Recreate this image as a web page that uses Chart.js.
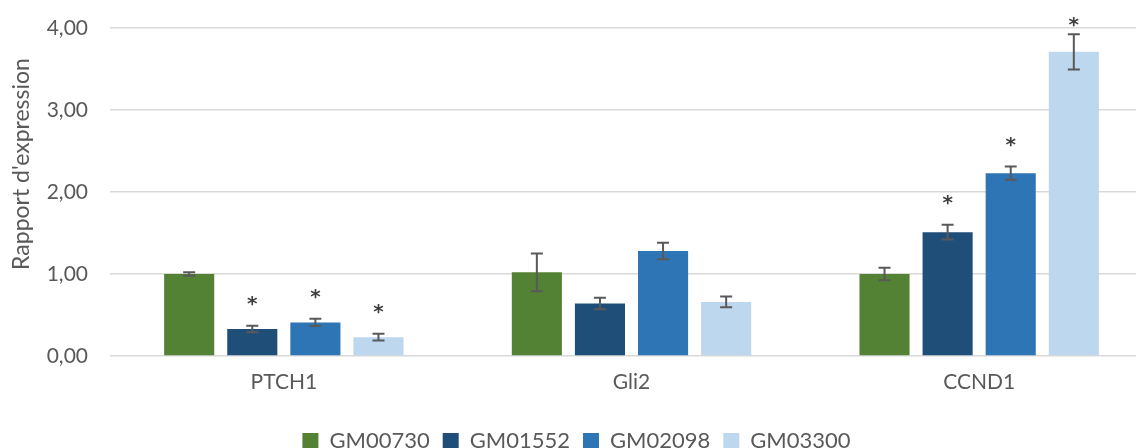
<!DOCTYPE html>
<html><head><meta charset="utf-8">
<script src="https://cdn.jsdelivr.net/npm/chart.js@4.4.1/dist/chart.umd.min.js"></script>
<style>
html,body{margin:0;padding:0;overflow:hidden;background:#fff;width:1136px;height:448px}
#wrap{position:absolute;left:0;top:0;width:1164px;height:462px}
</style></head><body>
<div id="wrap"><canvas id="c"></canvas></div>
<script>
const categories = ['PTCH1', 'Gli2', 'CCND1'];
const seriesNames = ['GM00730', 'GM01552', 'GM02098', 'GM03300'];
const gm00730 = [1.00, 1.02, 1.00];
const gm01552 = [0.33, 0.64, 1.51];
const gm02098 = [0.41, 1.28, 2.23];
const gm03300 = [0.23, 0.66, 3.71];
const errGm00730 = [0.02, 0.23, 0.077];
const errGm01552 = [0.04, 0.07, 0.09];
const errGm02098 = [0.045, 0.10, 0.08];
const errGm03300 = [0.04, 0.065, 0.215];
const sigGm00730 = [false, false, false];
const sigGm01552 = [true, false, true];
const sigGm02098 = [true, false, true];
const sigGm03300 = [true, false, true];
const yTicks = [0, 1, 2, 3, 4];
const yTitle = "Rapport d'expression";

const colors = ['#548235', '#1F4E79', '#2E75B6', '#BDD7EE'];
const values = [gm00730, gm01552, gm02098, gm03300];
const errors = [errGm00730, errGm01552, errGm02098, errGm03300];
const sigs = [sigGm00730, sigGm01552, sigGm02098, sigGm03300];
const FONT = 'Lato';
const TXT = '#595959';

const errorPlugin = {
  id: 'errbars',
  afterDatasetsDraw(chart) {
    const ctx = chart.ctx;
    const y = chart.scales.y;
    ctx.save();
    chart.data.datasets.forEach((ds, di) => {
      const meta = chart.getDatasetMeta(di);
      meta.data.forEach((bar, i) => {
        const v = ds.data[i], e = errors[di][i];
        const yt = y.getPixelForValue(v + e), yb = y.getPixelForValue(v - e);
        ctx.strokeStyle = '#595959';
        ctx.lineWidth = 2;
        ctx.beginPath();
        ctx.moveTo(bar.x, yt); ctx.lineTo(bar.x, yb);
        ctx.moveTo(bar.x - 6, yt); ctx.lineTo(bar.x + 6, yt);
        ctx.moveTo(bar.x - 6, yb); ctx.lineTo(bar.x + 6, yb);
        ctx.stroke();
        if (sigs[di][i]) {
          ctx.fillStyle = '#404040';
          ctx.font = 'bold 20px "DejaVu Sans"';
          ctx.textAlign = 'center';
          ctx.textBaseline = 'alphabetic';
          const ay = Math.max(yt - 27, 20);
          ctx.fillText('*', bar.x, ay + 11);
        }
      });
    });
    // y axis title
    ctx.save();
    ctx.translate(22, 164);
    ctx.rotate(-Math.PI / 2);
    ctx.fillStyle = TXT;
    ctx.font = '23px ' + FONT;
    ctx.textAlign = 'center';
    ctx.textBaseline = 'middle';
    ctx.fillText(yTitle, 0, 0);
    ctx.restore();
    ctx.restore();
  }
};

new Chart(document.getElementById('c'), {
  type: 'bar',
  data: {
    labels: categories,
    datasets: seriesNames.map((n, i) => ({
      label: n,
      data: values[i],
      backgroundColor: colors[i],
      borderWidth: 0,
      categoryPercentage: 0.726,
      barPercentage: 0.794
    }))
  },
  options: {
    responsive: true,
    maintainAspectRatio: false,
    animation: false,
    layout: { padding: { top: 28, right: 11, left: 0, bottom: 0 } },
    plugins: {
      legend: {
        position: 'bottom',
        labels: { boxWidth: 16, boxHeight: 16, padding: 13, color: TXT, font: { family: FONT, size: 22 } }
      },
      tooltip: { enabled: false }
    },
    scales: {
      x: {
        afterFit: (s) => { s.height = 61; },
        grid: { display: false, drawTicks: false },
        border: { display: false },
        ticks: { color: TXT, padding: 14, font: { family: FONT, size: 21 } }
      },
      y: {
        min: 0, max: 4,
        afterBuildTicks: (s) => { s.ticks = yTicks.map(v => ({ value: v })); },
        afterFit: (s) => { s.width = 110; s.paddingTop = 0; s.paddingBottom = 0; },
        grid: { color: '#D9D9D9', lineWidth: 1.5, drawTicks: false },
        border: { display: false },
        ticks: {
          color: TXT, padding: 22, font: { family: FONT, size: 21 },
          callback: (v) => Number(v).toFixed(2).replace('.', ',')
        }
      }
    }
  },
  plugins: [errorPlugin]
});
</script>
</body></html>
